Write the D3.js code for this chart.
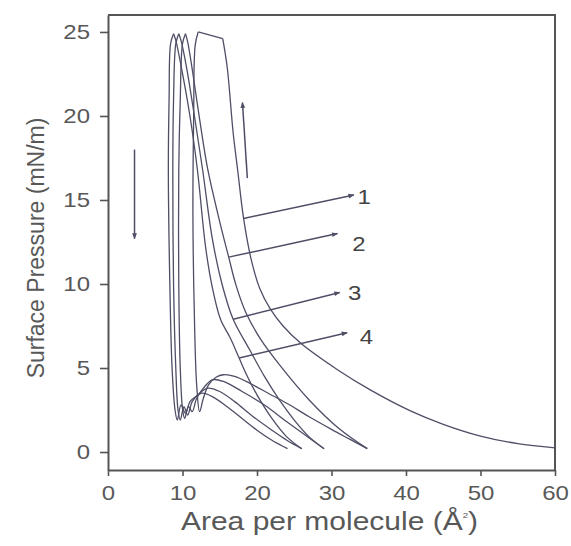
<!DOCTYPE html>
<html>
<head>
<meta charset="utf-8">
<script src="https://cdn.jsdelivr.net/npm/d3@7"></script>
<style>
  html, body { margin: 0; padding: 0; background: #fff; }
  svg { display: block; }
  .tick text { font-family: "Liberation Sans", Arial, sans-serif; }
</style>
</head>
<body>
<div id="chart"></div>
<script>
// axis ticks
const xTicks = [0, 10, 20, 30, 40, 50, 60];
const yTicks = [0, 5, 10, 15, 20, 25];

// compression / expansion branches of each cycle, [area, pressure]
const cycle1Comp = [[60, 0.25], [55, 0.5], [50, 0.95], [45, 1.65], [40.6, 2.45], [35.2, 3.7], [30.8, 4.9], [25.8, 6.5], [23.5, 7.5], [21.8, 8.5], [20.4, 9.7], [19.2, 11.5], [18.2, 13.9], [17.4, 16.8], [16.8, 19], [16.0, 22.9], [15.4, 24.6]];
const cycle1Exp = [[12.1, 25.0], [11.7, 24.2], [11.5, 20], [11.4, 14], [11.6, 8], [11.9, 4], [12.3, 2.4], [12.8, 3.2], [13.5, 4.0], [14.5, 4.45], [15.5, 4.6], [17, 4.5], [19, 4.1], [21.5, 3.5], [24, 2.9], [27, 2.1], [30, 1.35], [32.5, 0.75], [34.8, 0.2]];

const cycle2Comp = [[34.8, 0.2], [31, 1.4], [27, 3.1], [23, 5.2], [20.5, 6.7], [18.5, 8.3], [17.2, 9.9], [16.2, 11.6], [15, 13.7], [13.4, 16.8], [12.3, 19.8], [11.3, 22.8], [10.7, 24.4], [10.4, 24.9]];
const cycle2Exp = [[10.4, 24.9], [10.0, 24.3], [9.7, 21], [9.5, 16.8], [9.5, 10], [9.7, 5], [10.0, 2.6], [10.3, 2.0], [10.8, 2.7], [11.3, 2.4], [11.9, 3.2], [12.8, 3.8], [14.0, 4.3], [15.5, 4.2], [18, 3.6], [21, 2.8], [24, 1.8], [26.5, 1.0], [29.0, 0.2]];

const cycle3Comp = [[29.0, 0.2], [27, 0.9], [25, 1.9], [23, 3.1], [21, 4.5], [19, 6.1], [16.8, 7.9], [15.3, 10], [14.0, 12.7], [12.7, 16.8], [11.6, 20], [10.5, 23], [9.8, 24.5], [9.5, 24.9]];
const cycle3Exp = [[9.5, 24.9], [9.1, 24.3], [8.8, 21], [8.7, 16.8], [8.8, 10], [9.1, 5], [9.4, 2.5], [9.7, 1.9], [10.2, 2.7], [10.7, 2.2], [11.3, 3.0], [12.3, 3.5], [13.4, 3.8], [15, 3.6], [17, 3.0], [19.5, 2.1], [22, 1.3], [24, 0.7], [26.0, 0.2]];

const cycle4Comp = [[26.0, 0.2], [24, 0.9], [22, 2.0], [20, 3.4], [18.6, 4.6], [17.6, 5.6], [16.4, 6.8], [15.1, 7.9], [14.0, 9.8], [13.1, 12.2], [12.0, 16.8], [11.0, 20], [9.8, 23], [9.1, 24.5], [8.8, 24.9]];
const cycle4Exp = [[8.8, 24.9], [8.4, 24.3], [8.2, 21], [8.1, 16.8], [8.3, 10], [8.6, 5], [9.0, 2.5], [9.3, 1.9], [9.8, 2.8], [10.4, 2.3], [11.0, 3.0], [11.8, 3.3], [12.6, 3.5], [14, 3.3], [16, 2.7], [18, 2.0], [20, 1.3], [22, 0.7], [24.1, 0.2]];

// numbered callouts
const curveLabels = ['1', '2', '3', '4'];
const labelArrowFrom = [[18.2, 13.9], [16.2, 11.6], [16.8, 7.9], [17.6, 5.6]];
const labelArrowTo = [[33.0, 15.3], [30.8, 13.0], [31.1, 9.5], [32.1, 7.1]];
const labelPos = [[33.5, 15.2], [32.8, 12.4], [32.2, 9.5], [33.8, 6.85]];

// direction arrows
const compressArrow = [[18.7, 16.3], [18.05, 20.8]];
const expandArrow = [[3.56, 18.0], [3.56, 12.7]];

const width = 571;
const height = 546;
const margin = { top: 15, right: 16, bottom: 76, left: 108 };
const innerW = width - margin.left - margin.right;
const innerH = height - margin.top - margin.bottom;
const stretch = 1.2; // scan is wider than tall
const lineColor = '#4e4e66';
const textColor = '#585858';
const axisColor = '#555';

const svg = d3.select('#chart').append('svg')
  .attr('width', width)
  .attr('height', height);

const defs = svg.append('defs');
defs.append('marker')
  .attr('id', 'head')
  .attr('viewBox', '0 0 10 10')
  .attr('refX', 9)
  .attr('refY', 5)
  .attr('markerWidth', 8)
  .attr('markerHeight', 6)
  .attr('markerUnits', 'userSpaceOnUse')
  .attr('orient', 'auto')
  .append('path')
  .attr('d', 'M0,1 L10,5 L0,9 Z')
  .attr('fill', lineColor);

const g = svg.append('g')
  .attr('transform', `translate(${margin.left},${margin.top})`);

const x = d3.scaleLinear().domain([0, 60]).range([0, innerW]);
const y = d3.scaleLinear().domain([-1.07, 26.01]).range([innerH, 0]);

// widen text horizontally like the scan
function widen(sel) {
  sel.each(function() {
    const t = d3.select(this);
    const tx = +t.attr('x') || 0;
    t.attr('x', tx / stretch).attr('transform', `scale(${stretch},1)`);
  });
}

// axes
const xAxis = g.append('g')
  .attr('transform', `translate(0,${innerH})`)
  .call(d3.axisBottom(x).tickValues(xTicks).tickSize(6).tickPadding(10).tickSizeOuter(0));
const yAxis = g.append('g')
  .call(d3.axisLeft(y).tickValues(yTicks).tickSize(8).tickPadding(10).tickSizeOuter(0));

[xAxis, yAxis].forEach(ax => {
  ax.select('.domain').attr('stroke', axisColor).attr('stroke-width', 2);
  ax.selectAll('.tick line').attr('stroke', axisColor).attr('stroke-width', 1.6);
  ax.selectAll('.tick text')
    .attr('fill', textColor)
    .style('font-size', '20px')
    .call(widen);
});

// frame top and right
g.append('path')
  .attr('d', `M0,0 H${innerW} V${innerH}`)
  .attr('fill', 'none')
  .attr('stroke', axisColor)
  .attr('stroke-width', 2);

// isotherm cycles
const line = d3.line()
  .x(d => x(d[0]))
  .y(d => y(d[1]))
  .curve(d3.curveCatmullRom.alpha(0.5));

const cycles = [
  cycle1Comp, cycle1Exp,
  cycle2Comp, cycle2Exp,
  cycle3Comp, cycle3Exp,
  cycle4Comp, cycle4Exp
];

g.selectAll('.cycle')
  .data(cycles)
  .enter()
  .append('path')
  .attr('class', 'cycle')
  .attr('d', line)
  .attr('fill', 'none')
  .attr('stroke', lineColor)
  .attr('stroke-width', 1.3);

// plateau of the first cycle
g.append('path')
  .attr('d', d3.line().x(d => x(d[0])).y(d => y(d[1]))([cycle1Comp[cycle1Comp.length - 1], cycle1Exp[0]]))
  .attr('fill', 'none')
  .attr('stroke', lineColor)
  .attr('stroke-width', 1.3);

// callout arrows and numbers
g.selectAll('.callout')
  .data(curveLabels)
  .enter()
  .append('line')
  .attr('class', 'callout')
  .attr('x1', (d, i) => x(labelArrowFrom[i][0]))
  .attr('y1', (d, i) => y(labelArrowFrom[i][1]))
  .attr('x2', (d, i) => x(labelArrowTo[i][0]))
  .attr('y2', (d, i) => y(labelArrowTo[i][1]))
  .attr('stroke', lineColor)
  .attr('stroke-width', 1.5)
  .attr('marker-end', 'url(#head)');

g.selectAll('.callout-label')
  .data(curveLabels)
  .enter()
  .append('text')
  .attr('class', 'callout-label')
  .attr('x', (d, i) => x(labelPos[i][0]))
  .attr('y', (d, i) => y(labelPos[i][1]))
  .attr('dy', '0.36em')
  .attr('fill', '#444')
  .style('font-family', '"Liberation Sans", Arial, sans-serif')
  .style('font-size', '20px')
  .text(d => d)
  .call(widen);

// compression / expansion direction arrows
[compressArrow, expandArrow].forEach(a => {
  g.append('line')
    .attr('x1', x(a[0][0]))
    .attr('y1', y(a[0][1]))
    .attr('x2', x(a[1][0]))
    .attr('y2', y(a[1][1]))
    .attr('stroke', lineColor)
    .attr('stroke-width', 1.5)
    .attr('marker-end', 'url(#head)');
});

// axis titles
const xTitle = svg.append('text')
  .attr('x', margin.left + innerW / 2 - 2)
  .attr('y', 530)
  .attr('text-anchor', 'middle')
  .attr('fill', textColor)
  .style('font-family', '"Liberation Sans", Arial, sans-serif')
  .style('font-size', '25px')
  .text('Area per molecule (Å');
xTitle.append('tspan')
  .attr('dy', -12)
  .style('font-size', '8px')
  .text('2');
xTitle.append('tspan')
  .attr('dy', 12)
  .text(')');
xTitle.call(widen);

svg.append('text')
  .attr('transform', 'translate(44,248) rotate(-90)')
  .attr('text-anchor', 'middle')
  .attr('fill', textColor)
  .style('font-family', '"Liberation Sans", Arial, sans-serif')
  .style('font-size', '23px')
  .text('Surface Pressure (mN/m)');
</script>
</body>
</html>
